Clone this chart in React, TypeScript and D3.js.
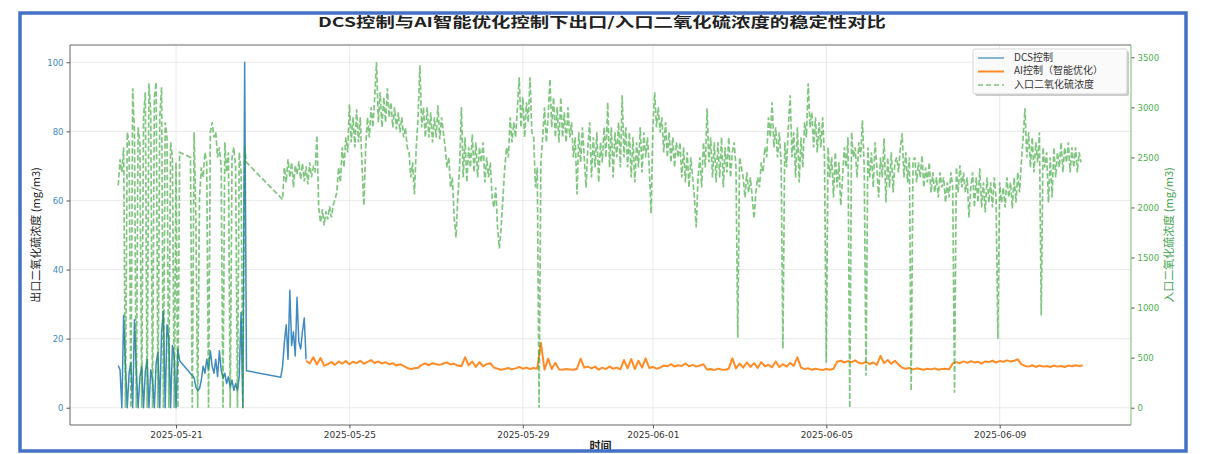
import React, { useEffect, useRef } from 'react'
import * as d3 from 'd3'

// time is stored as hours after 2025-05-19 00:00 (UTC)
const BASE_TIME = Date.UTC(2025, 4, 19)

// inlet SO2 (right axis), three stretches of data, 1h step
const inletStart1 = 16
const inletSeg1 = [
  2220, 2480, 2350, 2600, 0, 2750, 2650, 0, 3190, 2750, 0, 2800, 2650, 0, 2900, 3150, 0, 3240,
  2950, 0, 3100, 3250, 0, 2900, 3200, 0, 2850, 2700, 0, 2650, 2500, 0, 2450, 0, 2550,
]
const inletStart2 = 56
const inletSeg2 = [
  2500, 0, 2750, 1900, 0, 2100, 2400, 2300, 2550, 2450, 0, 2750, 2850, 2700, 2750, 2500, 2600,
  2400, 0, 2650, 2350, 2550, 0, 2500, 2600, 2400, 0, 2550, 2350, 0, 2600, 2450,
]
const inletStart3 = 107
const inletSeg3 = [
  2080, 2400, 2250, 2480, 2300, 2450, 2200, 2420, 2330, 2460,
  2280, 2440, 2260, 2410, 2230, 2450, 2300, 2400, 2350, 2720,
  2000, 1850, 1980, 1820, 1960, 1880, 2010, 1900, 2020, 2080,
  2150, 2400, 2250, 2600, 2400, 2700, 2550, 3030, 2650, 2900,
  2600, 2980, 2650, 2900, 2400, 2020, 2600, 2900, 2700, 3000,
  2800, 3100, 3450, 2850, 3150, 2800, 3100, 2850, 3190, 2900,
  3050, 2800, 3000, 2780, 2950, 2750, 2900, 2700, 2800, 2600,
  2550, 2300, 2450, 2130, 2600, 2900, 3420, 2800, 3000, 2700,
  3000, 2700, 2950, 2650, 2900, 2700, 3020, 2680, 2900, 2750,
  2600, 2400, 2500, 2200, 2300, 1900, 1700, 2100, 2400, 3000,
  2300, 2700, 2250, 2600, 2400, 2730, 2350, 2650, 2300, 2600,
  2450, 2650, 2250, 2500, 2300, 2450, 2100, 2000, 2200, 1800,
  1590, 1800, 2100, 2400, 2600, 2500, 2900, 2650, 2850, 2700,
  3000, 3300, 2800, 3100, 2700, 3050, 2850, 3300, 2750, 2700,
  2200, 2400, 0, 2450, 2700, 3000, 2650, 2900, 3280, 2800,
  3100, 2700, 3000, 2650, 3100, 2700, 2950, 2650, 3000, 2700,
  2850, 2500, 2700, 2130, 2750, 2450, 2800, 2500, 2200, 2600,
  2850, 2300, 2700, 2400, 2750, 2250, 2650, 2450, 2800, 2500,
  3050, 2400, 2800, 2300, 2750, 2500, 2850, 2400, 3120, 2500,
  2800, 2400, 2750, 2300, 2700, 2250, 2650, 2400, 2800, 2350,
  2750, 2500, 2700, 2400, 1940, 2800, 3150, 2800, 3000, 2750,
  2900, 2550, 2850, 2500, 2750, 2450, 2700, 2400, 2650, 2500,
  2650, 2300, 2600, 2250, 2550, 2200, 2500, 2300, 2100, 1800,
  2300, 2500, 2200, 2650, 2400, 2990, 2450, 2700, 2300, 2650,
  2250, 2650, 2300, 2700, 2200, 2600, 2350, 2700, 2300, 2550,
  2650, 2400, 700, 2500, 2400, 2300, 2100, 2350, 2150, 2300,
  2100, 1890, 2150, 2300, 2200, 2450, 2350, 2600, 2500, 2900,
  2700, 3050, 2600, 2800, 2500, 2750, 2450, 590, 2650, 2400,
  2800, 3120, 2500, 2750, 2300, 2800, 2250, 2700, 2400, 2850,
  2700, 3240, 2800, 2950, 2600, 2900, 2550, 2850, 2600, 2900,
  2500, 450, 2600, 2300, 2500, 2100, 2550, 2200, 2450, 2020,
  2300, 2600, 2400, 2700, 0, 2750, 2500, 2600, 2300, 2650,
  2500, 2870, 2400, 320, 2600, 2300, 2550, 2200, 2650, 2400,
  2100, 2500, 2300, 2690, 2050, 2500, 2200, 2550, 2150, 2450,
  2500, 2350, 2600, 2740, 2300, 2550, 2250, 2500, 170, 2450,
  2500, 2250, 2450, 2300, 2520, 2200, 2400, 2250, 2450, 2150,
  2350, 2150, 2300, 2100, 2350, 2200, 2300, 2050, 2250, 2100,
  2350, 2200, 150, 2400, 2150, 2420, 2200, 2350, 2150, 2300,
  1900, 2200, 2350, 2000, 2300, 2050, 2390, 2000, 2250, 1950,
  2300, 2050, 2250, 2000, 2300, 2100, 690, 2250, 2050, 2200,
  2000, 2300, 2100, 2250, 1990, 2300, 2050, 2350, 2150, 2450,
  2700, 2990, 2500, 2750, 2400, 2700, 2350, 2650, 2450, 2750,
  920, 2600, 2400, 2550, 2050, 2500, 2100, 2600, 2300, 2550,
  2400, 2650, 2350, 2600, 2450, 2650, 2350, 2600, 2400, 2600,
  2350, 2550, 2450,
]

// DCS outlet SO2 (left axis), 1h step
const dcsStart1 = 16
const dcsSeg1 = [
  12.2, 11, 0, 26.7, 12, 0, 10, 13, 0, 25.5, 11, 0, 9, 12, 0, 10.5, 14, 0, 11, 8, 0, 13, 16, 0,
  22, 28, 0, 24, 20, 0, 18, 15, 0, 17, 13.6,
]
const dcsStart2 = 58
const dcsSeg2 = [
  8.7, 6, 4.9, 5.5, 8, 12, 10, 14, 11, 16.5, 12, 10, 14, 9, 16.5, 11, 8.5, 10, 7, 9, 6, 8, 5, 7,
  5, 9, 27.6, 0, 100, 10.7,
]
const dcsStart3 = 106
const dcsSeg3 = [8.8, 12, 19, 24, 14, 34, 18, 22, 15, 32, 19, 17, 22, 26, 14]

// AI control outlet SO2 (left axis), 2h step
const aiStart = 120
const aiValues = [
  13.6, 12.8, 14.6, 12.5, 14.4, 12.2, 12.6, 13.2, 12.4, 13.4, 12.8, 13.5, 12.6, 13.3, 12.9, 13.6,
  12.7, 13.3, 13.8, 12.9, 13.4, 12.8, 13.2, 12.6, 12.9, 12.2, 12.6, 12.1, 11.5, 11.2, 11.4, 11.6,
  12.4, 12.8, 12.3, 12.9, 12.6, 12.4, 12.8, 13.1, 12.5, 12.7, 12.2, 12.0, 14.6, 12.3, 13.4, 11.8,
  13.2, 12.0, 12.6, 12.9, 11.6, 11.3, 11.0, 11.2, 11.5, 11.1, 11.4, 11.8, 11.3, 11.6, 11.2, 11.5,
  11.3, 18.8, 11.0, 14.2, 11.2, 13.0, 11.1, 11.0, 11.2, 11.1, 11.0, 11.3, 14.2, 11.6, 11.9, 11.4,
  11.9, 11.0, 11.6, 11.2, 11.9, 11.3, 11.6, 11.1, 13.8, 11.4, 14.1, 11.2, 13.6, 11.6, 14.3, 11.5,
  11.8, 11.3, 11.6, 12.2, 12.0, 12.6, 11.9, 12.3, 12.1, 12.8, 12.0, 12.4, 11.9, 12.2, 12.6, 11.0,
  11.2, 10.9, 11.3, 11.1, 11.0, 11.3, 14.3, 11.4, 12.8, 11.6, 13.1, 11.8, 12.9, 11.5, 13.2, 12.0,
  12.4, 11.7, 13.4, 11.8, 12.6, 11.9, 13.0, 12.1, 14.6, 11.6, 11.2, 11.4, 11.0, 11.3, 11.1, 10.9,
  11.2, 11.0, 11.3, 13.3, 13.6, 13.1, 13.5, 13.2, 13.7, 13.0, 12.8, 13.3, 12.6, 13.1, 12.4, 15.0,
  12.9, 13.8, 12.7, 13.6, 12.5, 11.6, 11.3, 11.5, 11.1, 11.4, 11.2, 11.0, 11.3, 11.1, 11.4, 11.0,
  11.2, 11.3, 11.1, 12.8, 13.2, 12.9, 13.4, 13.0, 13.5, 13.1, 13.3, 12.8, 13.4, 13.2, 13.6, 13.1,
  13.5, 13.3, 13.7, 13.4, 13.6, 14.0, 12.6, 12.1, 11.9, 12.3, 11.8, 12.2, 11.9, 12.1, 11.8, 12.2,
  11.9, 12.1, 11.8, 12.2, 12.0, 12.3, 12.1, 12.2,
]

const xTickLabels = ['2025-05-21', '2025-05-25', '2025-05-29', '2025-06-01', '2025-06-05', '2025-06-09']
const leftTicks = [0, 20, 40, 60, 80, 100]
const rightTicks = [0, 500, 1000, 1500, 2000, 2500, 3000, 3500]
const legendLabels = ['DCS控制', 'AI控制（智能优化）', '入口二氧化硫浓度']

const TITLE = 'DCS控制与AI智能优化控制下出口/入口二氧化硫浓度的稳定性对比'
const FONT = '"DejaVu Sans", "Noto Sans CJK SC", sans-serif'
const CJK = '"Noto Sans CJK SC", "DejaVu Sans", sans-serif'

const BLUE = '#1f77b4'
const ORANGE = '#ff7f0e'
const GREEN = '#2ca02c'

type Pt = [number, number]

const toPoints = (start: number, step: number, values: number[]): Pt[] =>
  values.map((v, i) => [start + i * step, v])

const hourToDate = (h: number) => new Date(BASE_TIME + h * 3600 * 1000)

export default function App() {
  const ref = useRef<SVGSVGElement>(null)

  useEffect(() => {
    const svg = d3.select(ref.current)
    svg.selectAll('*').remove()

    const width = 1207
    const height = 454
    const margin = { top: 45, right: 76, bottom: 29, left: 70 }
    const innerW = width - margin.left - margin.right
    const innerH = height - margin.top - margin.bottom

    const inlet = [
      ...toPoints(inletStart1, 1, inletSeg1),
      ...toPoints(inletStart2, 1, inletSeg2),
      ...toPoints(inletStart3, 1, inletSeg3),
    ]
    const dcs = [
      ...toPoints(dcsStart1, 1, dcsSeg1),
      ...toPoints(dcsStart2, 1, dcsSeg2),
      ...toPoints(dcsStart3, 1, dcsSeg3),
    ]
    const ai = toPoints(aiStart, 2, aiValues)

    // matplotlib style 5% margins
    const allHours = [...inlet, ...dcs, ...ai].map(d => d[0])
    const h0 = d3.min(allHours) as number
    const h1 = d3.max(allHours) as number
    const pad = (h1 - h0) * 0.05

    const x = d3.scaleUtc()
      .domain([hourToDate(h0 - pad), hourToDate(h1 + pad)])
      .range([0, innerW])

    const leftMax = d3.max([...dcs, ...ai], d => d[1]) as number
    const yLeft = d3.scaleLinear().domain([-leftMax * 0.05, leftMax * 1.05]).range([innerH, 0])
    const rightMax = d3.max(inlet, d => d[1]) as number
    const yRight = d3.scaleLinear().domain([-rightMax * 0.05, rightMax * 1.05]).range([innerH, 0])

    svg.append('rect')
      .attr('width', width).attr('height', height).attr('fill', '#fff')

    svg.append('text')
      .attr('x', 602).attr('y', 27)
      .attr('text-anchor', 'middle')
      .attr('font-family', CJK).attr('font-size', 13.5).attr('font-weight', 'bold')
      .attr('fill', '#222')
      .attr('textLength', 568).attr('lengthAdjust', 'spacingAndGlyphs')
      .text(TITLE)

    const g = svg.append('g').attr('transform', `translate(${margin.left},${margin.top})`)

    // grid
    const xTicks = xTickLabels.map(s => new Date(s + 'T00:00:00Z'))
    g.append('g').selectAll('line').data(xTicks).enter().append('line')
      .attr('x1', d => x(d)).attr('x2', d => x(d))
      .attr('y1', 0).attr('y2', innerH)
      .attr('stroke', '#e4e4e4').attr('stroke-width', 0.8)
    g.append('g').selectAll('line').data(leftTicks).enter().append('line')
      .attr('x1', 0).attr('x2', innerW)
      .attr('y1', d => yLeft(d)).attr('y2', d => yLeft(d))
      .attr('stroke', '#e4e4e4').attr('stroke-width', 0.8)

    const lineLeft = d3.line<Pt>().x(d => x(hourToDate(d[0]))).y(d => yLeft(d[1]))
    const lineRight = d3.line<Pt>().x(d => x(hourToDate(d[0]))).y(d => yRight(d[1]))

    g.append('path').datum(dcs)
      .attr('d', lineLeft)
      .attr('fill', 'none').attr('stroke', BLUE).attr('stroke-opacity', 0.85)
      .attr('stroke-width', 1.5).attr('stroke-linejoin', 'round')

    g.append('path').datum(ai)
      .attr('d', lineLeft)
      .attr('fill', 'none').attr('stroke', ORANGE).attr('stroke-opacity', 0.9)
      .attr('stroke-width', 2).attr('stroke-linejoin', 'round')

    g.append('path').datum(inlet)
      .attr('d', lineRight)
      .attr('fill', 'none').attr('stroke', GREEN).attr('stroke-opacity', 0.6)
      .attr('stroke-width', 1.7).attr('stroke-dasharray', '5.5,2.4')

    // axes
    const xAxis = g.append('g')
      .attr('transform', `translate(0,${innerH})`)
      .call(d3.axisBottom(x).tickValues(xTicks).tickFormat(d3.utcFormat('%Y-%m-%d') as any)
        .tickSize(3.5).tickPadding(3))
    xAxis.select('.domain').remove()
    xAxis.selectAll('text').attr('font-family', FONT).attr('font-size', 9).attr('fill', '#333')
    xAxis.selectAll('line').attr('stroke', '#555')

    const leftAxis = g.append('g')
      .call(d3.axisLeft(yLeft).tickValues(leftTicks).tickFormat(d3.format('d')).tickSize(3.5).tickPadding(3))
    leftAxis.select('.domain').remove()
    leftAxis.selectAll('text').attr('font-family', FONT).attr('font-size', 8.5).attr('fill', '#3f88c5')
    leftAxis.selectAll('line').attr('stroke', '#555')

    const rightAxis = g.append('g')
      .attr('transform', `translate(${innerW},0)`)
      .call(d3.axisRight(yRight).tickValues(rightTicks).tickFormat(d3.format('d')).tickSize(3.5).tickPadding(3))
    rightAxis.select('.domain').remove()
    rightAxis.selectAll('text').attr('font-family', FONT).attr('font-size', 8.5).attr('fill', '#4caf50')
    rightAxis.selectAll('line').attr('stroke', '#555')

    // spines
    g.append('path')
      .attr('d', `M${innerW},0H0V${innerH}H${innerW}`)
      .attr('fill', 'none').attr('stroke', '#666').attr('stroke-width', 1)
    g.append('line')
      .attr('x1', innerW).attr('x2', innerW).attr('y1', 0).attr('y2', innerH)
      .attr('stroke', '#86cc86').attr('stroke-width', 1.2)

    // axis titles
    svg.append('text')
      .attr('transform', `translate(37,${margin.top + innerH / 2}) rotate(-90)`)
      .attr('text-anchor', 'middle').attr('dominant-baseline', 'middle')
      .attr('font-family', CJK).attr('font-size', 11).attr('fill', '#222')
      .text('出口二氧化硫浓度 (mg/m3)')
    svg.append('text')
      .attr('transform', `translate(1170,${margin.top + innerH / 2}) rotate(-90)`)
      .attr('text-anchor', 'middle').attr('dominant-baseline', 'middle')
      .attr('font-family', CJK).attr('font-size', 11).attr('fill', '#3fa34d')
      .text('入口二氧化硫浓度 (mg/m3)')
    svg.append('text')
      .attr('x', margin.left + innerW / 2).attr('y', 450)
      .attr('text-anchor', 'middle')
      .attr('font-family', CJK).attr('font-size', 11).attr('font-weight', 'bold').attr('fill', '#222')
      .text('时间')

    // legend
    const lg = g.append('g').attr('transform', `translate(${innerW - 158},4)`)
    lg.append('rect')
      .attr('x', 2).attr('y', 2).attr('width', 154).attr('height', 45).attr('rx', 2)
      .attr('fill', '#999').attr('opacity', 0.5)
    lg.append('rect')
      .attr('width', 154).attr('height', 45).attr('rx', 2)
      .attr('fill', '#fff').attr('fill-opacity', 0.9).attr('stroke', '#ccc').attr('stroke-width', 0.8)
    const styles = [
      { c: BLUE, dash: null, w: 1.5, o: 0.7 },
      { c: ORANGE, dash: null, w: 2, o: 0.9 },
      { c: GREEN, dash: '5,3', w: 1.6, o: 0.6 },
    ]
    legendLabels.forEach((label, i) => {
      const yy = 9 + i * 13.5
      const s = styles[i]
      lg.append('line')
        .attr('x1', 5).attr('x2', 31).attr('y1', yy).attr('y2', yy)
        .attr('stroke', s.c).attr('stroke-width', s.w).attr('stroke-opacity', s.o)
        .attr('stroke-dasharray', s.dash)
      lg.append('text')
        .attr('x', 41).attr('y', yy).attr('dominant-baseline', 'middle')
        .attr('font-family', CJK).attr('font-size', 10).attr('fill', '#333')
        .text(label)
    })

    // report frame
    svg.append('rect')
      .attr('x', 20).attr('y', 13).attr('width', 1166).attr('height', 438)
      .attr('fill', 'none').attr('stroke', '#4472c4').attr('stroke-width', 3.5)
  }, [])

  return (
    <div style={{ position: 'absolute', left: 0, top: 0 }}>
      <svg ref={ref} width={1207} height={454} />
    </div>
  )
}
